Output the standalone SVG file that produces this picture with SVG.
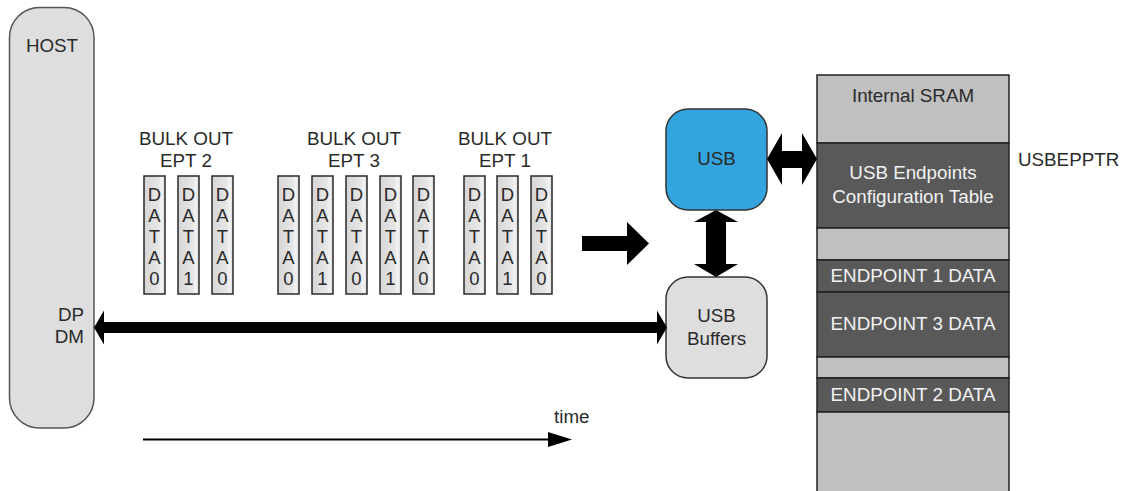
<svg xmlns="http://www.w3.org/2000/svg" width="1130" height="491" viewBox="0 0 1130 491">
<defs>
<linearGradient id="boxg" x1="0" y1="0" x2="1" y2="0">
<stop offset="0" stop-color="#d6d6d6"/>
<stop offset="0.7" stop-color="#e6e6e6"/>
<stop offset="0.85" stop-color="#f4f4f4"/>
<stop offset="1" stop-color="#d6d6d6"/>
</linearGradient>
</defs>
<style>
text{font-family:"Liberation Sans",Arial,sans-serif;font-size:18.8px;fill:#2a2a2a}
.c{text-anchor:middle}
.w{fill:#f2f2f2}
.data rect{fill:url(#boxg);stroke:#2a2a2a;stroke-width:1.5}
.data text{text-anchor:middle;font-size:18.5px}
.gray{fill:#c0c0c0;stroke:#222;stroke-width:1.5}
.dark{fill:#595959;stroke:#222;stroke-width:1.5}
.arr{fill:#000}
</style>
<rect width="1130" height="491" fill="#fff"/>

<g id="host">
<rect x="9.5" y="7.5" width="84.5" height="420.5" rx="30" fill="#dedede" stroke="#555" stroke-width="1.5"/>
<text class="c" x="52" y="52">HOST</text>
<text x="84" y="321" text-anchor="end">DP</text>
<text x="84" y="343" text-anchor="end">DM</text>
</g>

<g id="ept2">
<text class="c" x="186" y="145">BULK OUT</text>
<text class="c" x="186" y="167">EPT 2</text>
<g class="data">
<rect x="144" y="176" width="21" height="118"/>
<text x="154.5" y="201">D</text><text x="154.5" y="222">A</text><text x="154.5" y="243">T</text><text x="154.5" y="264">A</text><text x="154.5" y="285">0</text>
<rect x="178" y="176" width="21" height="118"/>
<text x="188.5" y="201">D</text><text x="188.5" y="222">A</text><text x="188.5" y="243">T</text><text x="188.5" y="264">A</text><text x="188.5" y="285">1</text>
<rect x="212" y="176" width="21" height="118"/>
<text x="222.5" y="201">D</text><text x="222.5" y="222">A</text><text x="222.5" y="243">T</text><text x="222.5" y="264">A</text><text x="222.5" y="285">0</text>
</g>
</g>

<g id="ept3">
<text class="c" x="354" y="145">BULK OUT</text>
<text class="c" x="354" y="167">EPT 3</text>
<g class="data">
<rect x="278" y="176" width="21" height="118"/>
<text x="288.5" y="201">D</text><text x="288.5" y="222">A</text><text x="288.5" y="243">T</text><text x="288.5" y="264">A</text><text x="288.5" y="285">0</text>
<rect x="312" y="176" width="21" height="118"/>
<text x="322.5" y="201">D</text><text x="322.5" y="222">A</text><text x="322.5" y="243">T</text><text x="322.5" y="264">A</text><text x="322.5" y="285">1</text>
<rect x="346" y="176" width="21" height="118"/>
<text x="356.5" y="201">D</text><text x="356.5" y="222">A</text><text x="356.5" y="243">T</text><text x="356.5" y="264">A</text><text x="356.5" y="285">0</text>
<rect x="380" y="176" width="21" height="118"/>
<text x="390.5" y="201">D</text><text x="390.5" y="222">A</text><text x="390.5" y="243">T</text><text x="390.5" y="264">A</text><text x="390.5" y="285">1</text>
<rect x="413" y="176" width="21" height="118"/>
<text x="423.5" y="201">D</text><text x="423.5" y="222">A</text><text x="423.5" y="243">T</text><text x="423.5" y="264">A</text><text x="423.5" y="285">0</text>
</g>
</g>

<g id="ept1">
<text class="c" x="505" y="145">BULK OUT</text>
<text class="c" x="505" y="167">EPT 1</text>
<g class="data">
<rect x="464" y="176" width="21" height="118"/>
<text x="474.5" y="201">D</text><text x="474.5" y="222">A</text><text x="474.5" y="243">T</text><text x="474.5" y="264">A</text><text x="474.5" y="285">0</text>
<rect x="497" y="176" width="21" height="118"/>
<text x="507.5" y="201">D</text><text x="507.5" y="222">A</text><text x="507.5" y="243">T</text><text x="507.5" y="264">A</text><text x="507.5" y="285">1</text>
<rect x="531" y="176" width="21" height="118"/>
<text x="541.5" y="201">D</text><text x="541.5" y="222">A</text><text x="541.5" y="243">T</text><text x="541.5" y="264">A</text><text x="541.5" y="285">0</text>
</g>
</g>

<g id="usb">
<rect x="666" y="109" width="101" height="101" rx="22" fill="#33a4dd" stroke="#333" stroke-width="1.5"/>
<text class="c" x="716.5" y="165">USB</text>
</g>

<g id="usb-buffers">
<rect x="666" y="277" width="101" height="101" rx="22" fill="#dedede" stroke="#333" stroke-width="1.5"/>
<text class="c" x="716.5" y="322">USB</text>
<text class="c" x="716.5" y="345">Buffers</text>
</g>

<g id="sram">
<rect class="gray" x="817" y="75" width="192" height="68"/>
<text class="c" x="913" y="102">Internal SRAM</text>
<rect class="dark" x="817" y="143" width="192" height="85"/>
<text class="c w" x="913" y="179">USB Endpoints</text>
<text class="c w" x="913" y="203">Configuration Table</text>
<rect class="gray" x="817" y="228" width="192" height="32"/>
<rect class="dark" x="817" y="260" width="192" height="32"/>
<text class="c w" x="913" y="282">ENDPOINT 1 DATA</text>
<rect class="dark" x="817" y="292" width="192" height="65"/>
<text class="c w" x="913" y="330">ENDPOINT 3 DATA</text>
<rect class="gray" x="817" y="357" width="192" height="21"/>
<rect class="dark" x="817" y="378" width="192" height="34"/>
<text class="c w" x="913" y="401">ENDPOINT 2 DATA</text>
<rect class="gray" x="817" y="412" width="192" height="85"/>
</g>

<g id="usbepptr">
<text x="1018" y="166">USBEPPTR</text>
</g>

<g id="connectors">
<polygon class="arr" points="94,327.5 104,310.5 104,322 657,322 657,310.5 667,327.5 657,344.5 657,333 104,333 104,344.5"/>
<polygon class="arr" points="582,236 627,236 627,222 649,243.5 627,265 627,251 582,251"/>
<polygon class="arr" points="716,210 738,222 726,222 726,264 738,264 716,277 694,264 706,264 706,222 694,222"/>
<polygon class="arr" points="767,159 782,133 782,151 802,151 802,133 817,159 802,185 802,168 782,168 782,185"/>
<line x1="143" y1="439.5" x2="552" y2="439.5" stroke="#000" stroke-width="2"/>
<polygon class="arr" points="548,432 572,439.5 548,447"/>
<text x="554" y="423">time</text>
</g>
</svg>
